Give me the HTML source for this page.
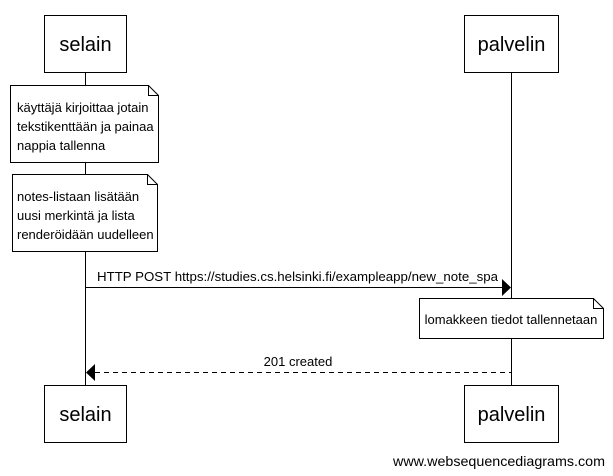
<!DOCTYPE html>
<html><head><meta charset="utf-8"><style>
html,body{margin:0;padding:0;background:#fff;}
svg{display:block;font-family:"Liberation Sans",Arial,sans-serif;}
</style></head><body>
<svg width="613" height="476" viewBox="0 0 613 476" xmlns="http://www.w3.org/2000/svg">
<g stroke="#000" stroke-width="1" fill="none">
<line x1="85.5" y1="72" x2="85.5" y2="385"/>
<line x1="511.5" y1="72" x2="511.5" y2="385"/>
</g>
<g stroke="#000" fill="#fff">
<rect x="44.5" y="15.5" width="82" height="57"/>
<rect x="464.5" y="15.5" width="94" height="57"/>
<rect x="44.5" y="385.5" width="82" height="57"/>
<rect x="464.5" y="385.5" width="94" height="57"/>
<path d="M10.5 85.5 H148.5 L158.5 95.5 V162.5 H10.5 Z"/>
<path d="M148.5 85.5 V95.5 H158.5" fill="none"/>
<path d="M12.5 174.5 H147.5 L157.5 184.5 V251.5 H12.5 Z"/>
<path d="M147.5 174.5 V184.5 H157.5" fill="none"/>
<path d="M419.5 298.5 H593.5 L603.5 308.5 V338.5 H419.5 Z"/>
<path d="M593.5 298.5 V308.5 H603.5" fill="none"/>
</g>
<g fill="#000" font-size="20" text-anchor="middle">
<text x="85.5" y="51">selain</text>
<text x="511.5" y="51">palvelin</text>
<text x="85.5" y="421">selain</text>
<text x="511.5" y="421">palvelin</text>
</g>
<g fill="#000" font-size="13">
<text x="17" y="112">käyttäjä kirjoittaa jotain</text>
<text x="17" y="131">tekstikenttään ja painaa</text>
<text x="17" y="150">nappia tallenna</text>
<text x="17" y="201">notes-listaan lisätään</text>
<text x="17" y="220">uusi merkintä ja lista</text>
<text x="17" y="239">renderöidään uudelleen</text>
<text x="511" y="324" text-anchor="middle">lomakkeen tiedot tallennetaan</text>
<text x="97" y="281" textLength="401" lengthAdjust="spacingAndGlyphs">HTTP POST https://studies.cs.helsinki.fi/exampleapp/new_note_spa</text>
<text x="298" y="366" text-anchor="middle">201 created</text>
<text x="393" y="466" font-size="14" textLength="212" lengthAdjust="spacingAndGlyphs">www.websequencediagrams.com</text>
</g>
<line x1="85" y1="287.5" x2="502" y2="287.5" stroke="#000"/>
<path d="M502 279 L511 287.5 L502 296 Z" fill="#000"/>
<line x1="95" y1="372.5" x2="511" y2="372.5" stroke="#000" stroke-dasharray="5,4"/>
<path d="M95 364 L86 372.5 L95 381 Z" fill="#000"/>
</svg>
</body></html>
